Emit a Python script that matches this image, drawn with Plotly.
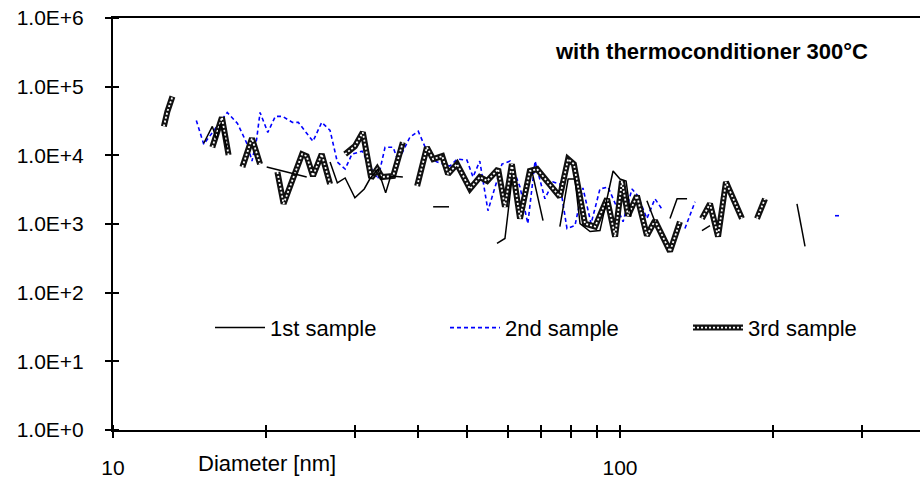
import plotly.graph_objects as go

# ---- data (diameter in nm, concentration) ; None = gap in the curve ----
d1 = [15.1, 15.7, 16.0, 16.3, 16.8, None, 20.1, 22.0, 24.1, None,
      26.8, 27.7, 28.7, 30.0, 31.3, 32.1, 33.3, 34.5, 35.3, 37.3, None,
      42.8, 46.0, None, 57.2, 59.3, 60.1, 61.2, None, 67.1, 70.5, None,
      76.1, 79.0, 81.5, 83.4, 87.3, 91.3, 96.9, 100, 102.8, 105.1, None,
      113.0, 117.2, None, 125.5, 129.6, 135.6, None, 145.1, 150.5, None,
      223.4, 231.7]
c1 = [15000, 26400, 17100, 29200, 12300, None, 6750, 5710, 4830, None,
      7970, 3960, 4680, 2410, 3240, 4520, 6320, 2840, 5000, 4830, None,
      1780, 1780, None, 521, 615, 1410, 4520, None, 5710, 1120, None,
      917, 4520, 4520, 1010, 777, 803, 5910, 4520, 4230, 1280, None,
      2180, 1080, None, 1200, 2330, 2330, None, 803, 948, None,
      1970, 471]

d2 = [14.6, 15.1, 16.8, 17.6, 18.4, 18.8, 19.2, 19.5, 20.2, 20.9, 21.6, 22.6,
      23.2, 24.8, 25.8, 26.8, 27.7, 28.7, 29.6, 31.0, 32.1, 33.3, 34.4, 35.7,
      36.5, 38.5, 40.0, 41.2, 42.6, 43.6, 46.2, 47.7, 49.9, 51.3, 52.9, 54.9,
      56.7, 58.5, 60.7, 63.5, 65.8, 68.0, 71.1, 73.8, 76.1, 78.6, 81.5, 84.5,
      87.7, 91.3, 94.7, 98.7, 101.4, 105.6, 108.5, 113.0, 117.2, 121.6, None,
      134.3, 140.6, None, 265.5, 271.6]
c2 = [32200, 14500, 42100, 29200, 14500, 8240, 17100, 42100, 21600, 36900, 36900, 30200,
      30200, 16000, 30200, 23100, 7970, 6320, 10400, 11500, 6980, 4520, 13100, 13100,
      8240, 18300, 22400, 13600, 8810, 7970, 6980, 8810, 8520, 4830, 8240, 1560,
      3460, 7460, 8240, 3460, 1010, 8240, 2330, 4090, 3830, 858, 948, 3360,
      1010, 3240, 3460, 1670, 1080, 3240, 2570, 1200, 2330, 1560, None,
      858, 2110, None, 1320, 1320]

d3 = [12.6, 12.8, 13.1, None, 15.7, 16.4, 16.9, None, 18.0, 18.8, 19.5, None,
      21.1, 21.7, 23.6, 24.1, 24.8, 25.8, 26.8, None,
      28.7, 30.0, 31.1, 32.3, 33.2, 33.9, 35.7, 37.3, None,
      39.8, 41.6, 42.8, 44.6, 45.8, 47.7, 50.6, 52.9, 54.7, 57.5, 59.3, 61.2,
      63.5, 66.4, 68.6, 71.8, 76.1, 79.0, 81.1, 85.3, 89.3, 94.3, 97.8, 100.9,
      103.7, 108.0, 113.0, 117.2, 125.5, 131.3, None,
      145.1, 150.5, 156.1, 161.8, 174.0, None, 186.3, 193.2]
c3 = [26400, 43500, 71700, None, 13100, 35700, 10100, None, 6750, 17700, 7460, None,
      5710, 1970, 10400, 9740, 5000, 10400, 3830, None,
      10400, 13600, 21600, 4680, 6320, 4830, 5000, 15500, None,
      3580, 13100, 8810, 9740, 5340, 7460, 3240, 4830, 4230, 6320, 1780, 7460,
      1200, 5910, 6320, 4230, 2490, 8810, 7460, 1010, 917, 2330, 657, 4230,
      1320, 2570, 680, 1120, 399, 1080, None,
      1200, 1970, 657, 4090, 1200, None, 1200, 2330]

names = ["1st sample", "2nd sample", "3rd sample"]
title_text = "with thermoconditioner 300°C"
xlabel = "Diameter [nm]"

x_tickvals = [10, 20, 30, 40, 50, 60, 70, 80, 90, 100, 200, 300]
x_ticktext = ["10", "", "", "", "", "", "", "", "", "100", "", ""]
y_tickvals = [1, 10, 100, 1e3, 1e4, 1e5, 1e6]
y_ticktext = ["1.0E+0", "1.0E+1", "1.0E+2", "1.0E+3", "1.0E+4", "1.0E+5", "1.0E+6"]

FONT = "Liberation Sans, Arial, sans-serif"
FS = 22
TL = 6  # tick half length

fig = go.Figure()

fig.add_trace(go.Scatter(x=d2, y=c2, mode="lines", name=names[1], legend="legend2",
                         line=dict(color="#0000FF", width=1.6, dash="4px,3px"),
                         connectgaps=False))
fig.add_trace(go.Scatter(x=d3, y=c3, mode="lines", name=names[2], legend="legend3",
                         line=dict(color="#111111", width=6), connectgaps=False))
fig.add_trace(go.Scatter(x=d3, y=c3, mode="lines", name=" ", legend="legend4",
                         xaxis="x2", yaxis="y2",
                         line=dict(color="white", width=1.8, dash="2px,2px"),
                         connectgaps=False))
fig.add_trace(go.Scatter(x=d1, y=c1, mode="lines", name=names[0], legend="legend",
                         xaxis="x2", yaxis="y2",
                         line=dict(color="black", width=1.5), connectgaps=False))

xr = [1, 1 + 807 / 507]
yr = [0, 6]

common_x = dict(type="log", range=xr, tickvals=x_tickvals, showgrid=False,
                zeroline=False, tickcolor="black", tickwidth=1.5, ticklen=TL)
common_y = dict(type="log", range=yr, tickvals=y_tickvals, showgrid=False,
                zeroline=False, tickcolor="black", tickwidth=1.5, ticklen=TL)

leg = dict(orientation="h", xanchor="left", yanchor="middle", y=0.248,
           bgcolor="rgba(0,0,0,0)", itemwidth=50,
           font=dict(family=FONT, size=FS, color="black"))

fig.update_layout(
    width=920, height=479,
    margin=dict(l=113, r=0, t=18, b=46),
    paper_bgcolor="white", plot_bgcolor="white",
    showlegend=True,
    font=dict(family=FONT, size=FS, color="black"),
    xaxis=dict(**common_x, ticktext=x_ticktext, ticks="outside",
               showline=True, linecolor="black", linewidth=2, mirror=True,
               ticklabelstandoff=12, tickfont=dict(size=21)),
    yaxis=dict(**common_y, ticktext=y_ticktext, ticks="outside",
               showline=True, linecolor="black", linewidth=2,
               ticklabelstandoff=17, tickfont=dict(size=21)),
    # second copies of the axes, shifted inward so their outside ticks
    # continue the main ticks across the axis lines
    xaxis2=dict(**common_x, overlaying="x", anchor="free", position=TL / 415,
                side="bottom", ticks="outside", showticklabels=False, showline=False),
    yaxis2=dict(**common_y, overlaying="y", anchor="free", position=TL / 807,
                side="left", ticks="outside", showticklabels=False, showline=False),
    legend=dict(leg, x=(210 - 113) / 807),
    legend2=dict(leg, x=(445 - 113) / 807),
    legend3=dict(leg, x=(688 - 113) / 807),
    legend4=dict(leg, x=(688 - 113) / 807),
    annotations=[
        dict(text=title_text, xref="paper", yref="paper", x=(553 - 113) / 807,
             y=(433 - 52) / 415, xanchor="left", yanchor="middle", showarrow=False,
             font=dict(family=FONT, size=FS, color="black", weight="bold")),
        dict(text=xlabel, xref="paper", yref="paper", x=(196 - 113) / 807,
             y=(433 - 467) / 415, xanchor="left", yanchor="middle", showarrow=False,
             font=dict(family=FONT, size=FS, color="black")),
    ],
)

fig.write_html("out.html")
